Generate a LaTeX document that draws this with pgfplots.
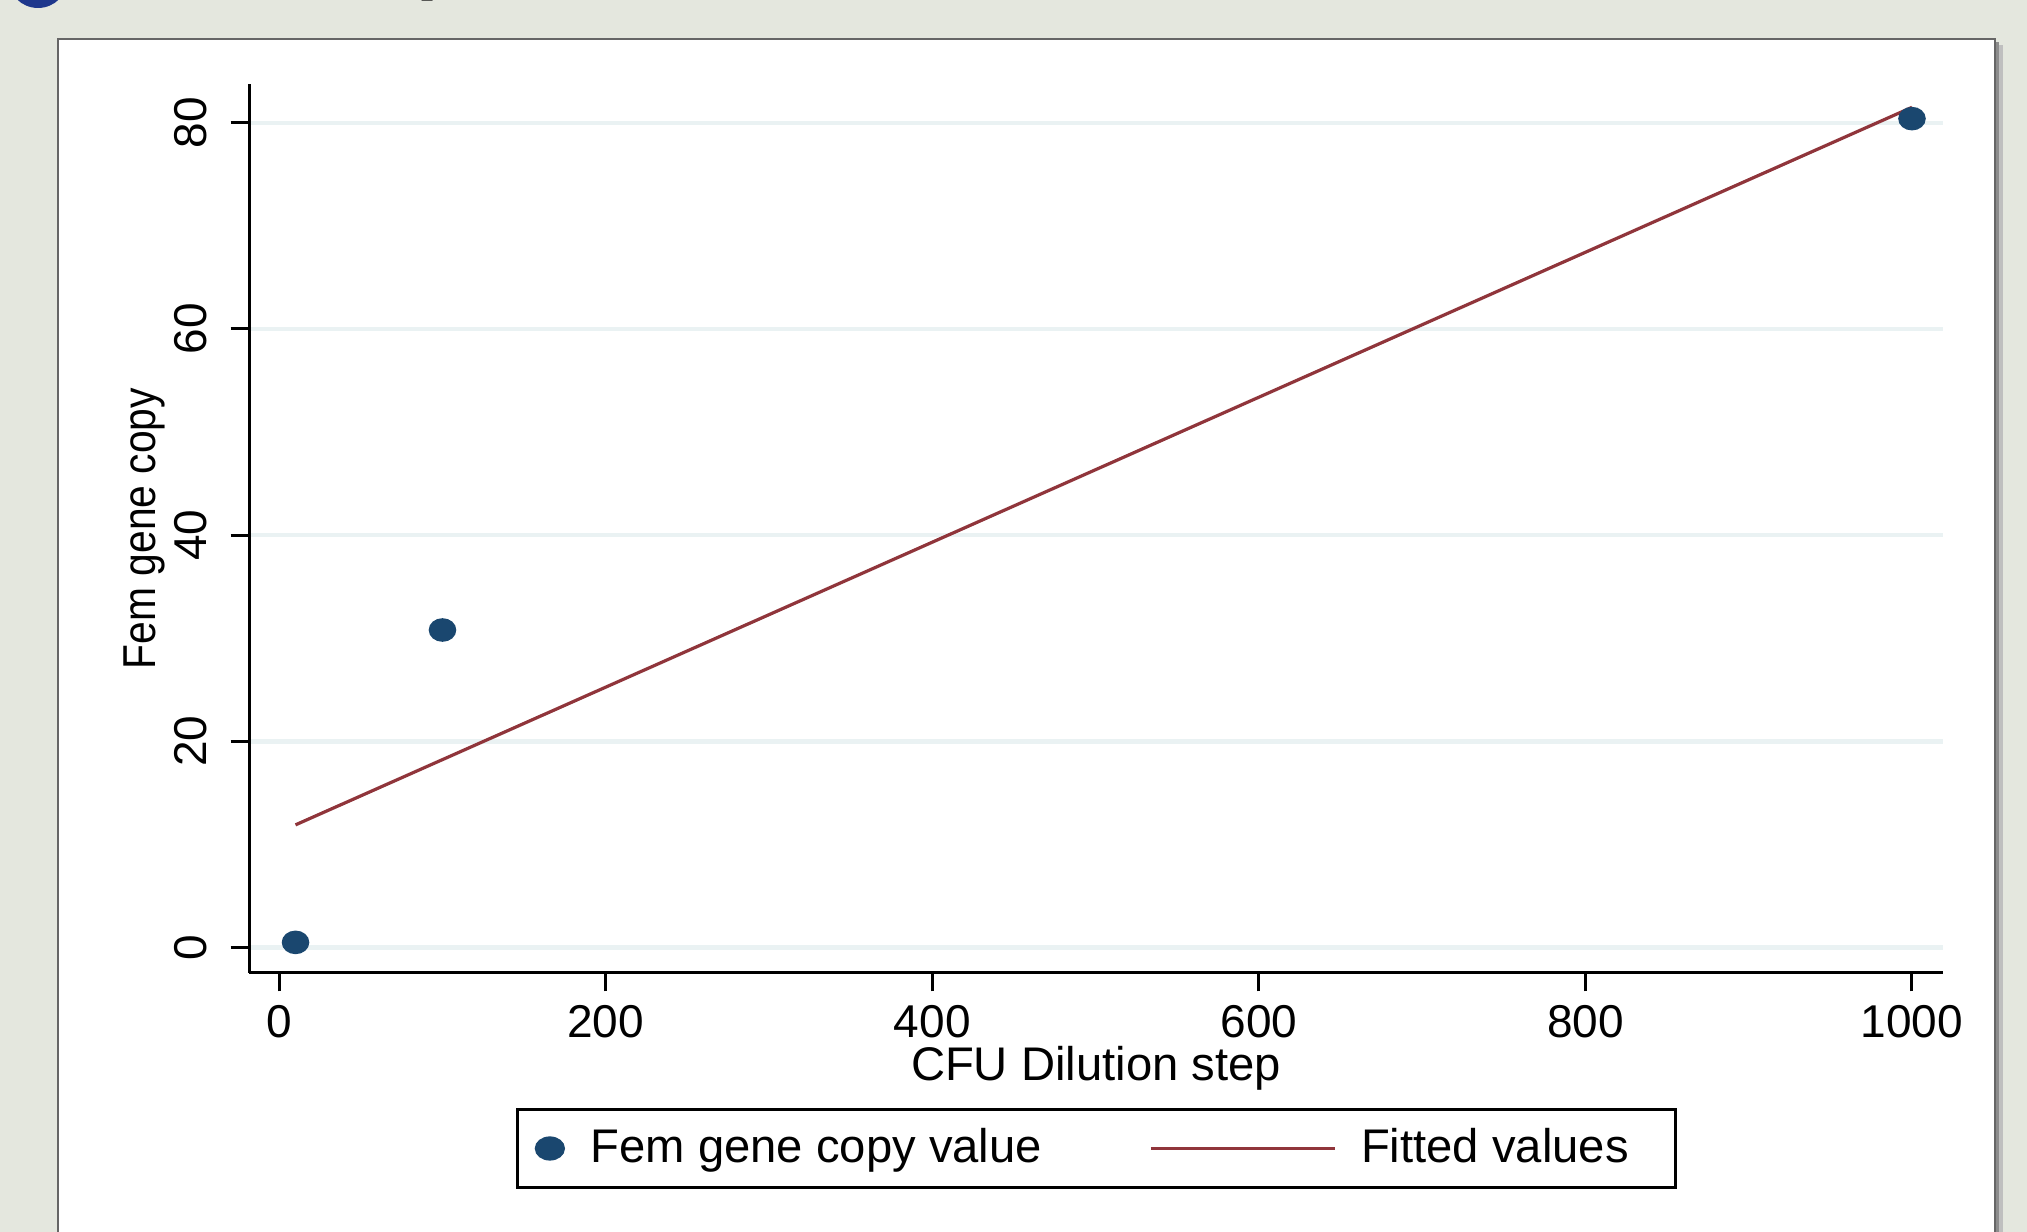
\documentclass[border=0pt]{standalone}
\usepackage{fontspec}
\setmainfont{Liberation Sans}
\usepackage{graphicx}
\usepackage{pgfplots}
\pgfplotsset{compat=1.18}
\definecolor{bg}{RGB}{228,231,222}
\definecolor{navy}{RGB}{26,71,111}
\definecolor{maroon}{RGB}{144,53,59}
\definecolor{gridc}{RGB}{234,242,243}
\definecolor{titleblue}{RGB}{30,55,140}
\begin{document}
\begin{tikzpicture}
\useasboundingbox (0,0) rectangle (506.75pt,308pt);
\clip (0,0) rectangle (506.75pt,308pt);
\fill[bg] (0,0) rectangle (506.75pt,308pt);
\fill[titleblue] (9.5pt,313.5pt) circle (7.5pt);
\node[anchor=base west, inner sep=0pt, font=\fontsize{20}{24}\selectfont\bfseries] at (103.9pt,311.8pt) {p};
% panel shadow and panel
\fill[black!25] (16.5pt,-5pt) rectangle (500.75pt,296.75pt);
\fill[black!45] (15.5pt,-5pt) rectangle (499.75pt,297.5pt);
\fill[white, draw=black!60, line width=0.5pt] (14.5pt,-5pt) rectangle (498.75pt,298.25pt);
\begin{axis}[
  at={(62.25pt,64.75pt)}, anchor=south west,
  scale only axis, width=423.5pt, height=222.25pt,
  xmin=-18.5, xmax=1019, ymin=-2.47, ymax=83.76,
  axis x line=bottom, axis y line=left,
  axis line style={-, line width=0.75pt, black},
  tick align=outside,
  major tick length=4.6pt,
  tick style={line width=0.75pt, black},
  xtick={0,200,400,600,800,1000}, ytick={0,20,40,60,80},
  ymajorgrids, grid style={gridc, line width=1.1pt},
  /pgf/number format/assume math mode=true,
  /pgf/number format/1000 sep={},
  tick label style={font=\fontsize{11.5}{13}\selectfont},
  yticklabel style={rotate=90, anchor=south, inner ysep=5.7pt},
  xlabel={CFU Dilution step}, ylabel={\scalebox{1}[1.13]{Fem gene copy}},
  every axis x label/.style={at={(axis description cs:0.5,-0.107)}, anchor=center,
    font=\fontsize{11.8}{13}\selectfont},
  every axis y label/.style={at={(axis description cs:-0.0617,0.5)}, rotate=90, anchor=center,
    font=\fontsize{10.2}{12}\selectfont},
  legend columns=2,
  legend style={at={(axis description cs:0.5003,-0.1974)}, anchor=center,
    draw=black, line width=0.75pt, inner xsep=0pt, inner ysep=3.2pt,
    nodes={inner xsep=0pt, inner ysep=1.5pt},
    font=\fontsize{11.8}{13}\selectfont},
]
\addplot[only marks, mark=*, mark size=2.75pt, mark options={draw=navy, fill=navy, xscale=1.18},
  legend image code/.code={\path[draw=none, fill=none] (-8.1pt,0) -- (10.2pt,0); \fill[navy] (0,0) ellipse [x radius=3.4pt, y radius=2.65pt];}]
  coordinates {(10,0.5) (100,30.8) (1000,80.4)};
\addlegendentry{Fem gene copy value}
\addplot[maroon, line width=0.8pt,
  legend image code/.code={\path[draw=none, fill=none] (-27.2pt,0) -- (52.6pt,0); \draw[maroon, line width=0.8pt] (0,0) -- (46pt,0);}]
  coordinates {(10,11.9) (1000,81.5)};
\addlegendentry{Fitted values\hspace*{11.7pt}}
\end{axis}
\end{tikzpicture}
\end{document}
